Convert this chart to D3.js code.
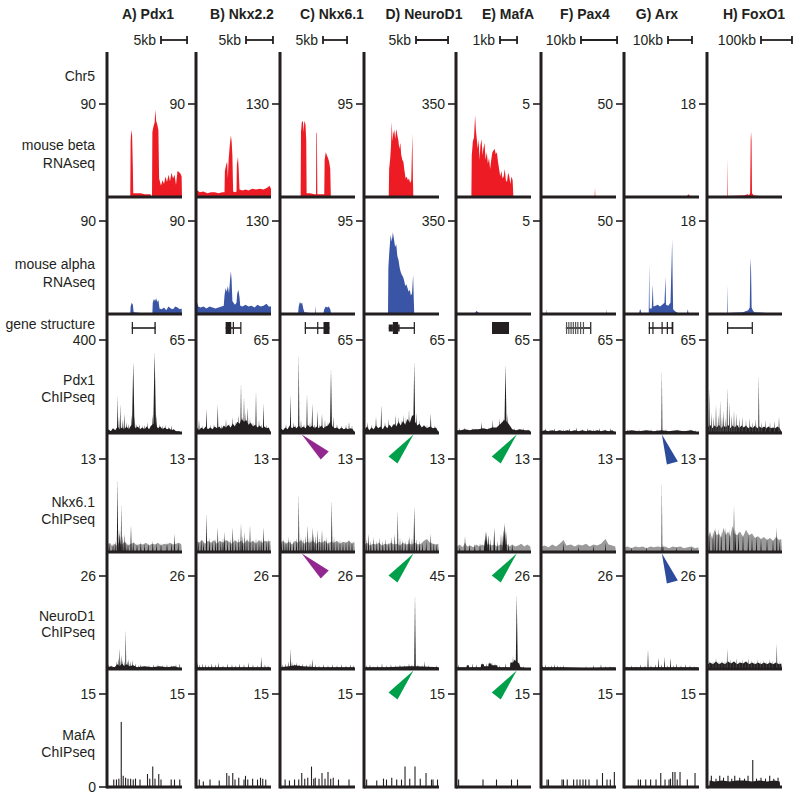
<!DOCTYPE html>
<html><head><meta charset="utf-8">
<script src="https://cdn.jsdelivr.net/npm/d3@7"></script>
<style>body{margin:0;background:#fff}svg{display:block;font-family:"Liberation Sans",Arial,Helvetica,sans-serif}</style>
</head><body><svg id="c" width="800" height="799"></svg>
<script>
// ---------------- DATA ----------------
const columns = ["A) Pdx1","B) Nkx2.2","C) Nkx6.1","D) NeuroD1","E) MafA","F) Pax4","G) Arx","H) FoxO1"];
const scaleBarLabels = ["5kb","5kb","5kb","5kb","1kb","10kb","10kb","100kb"];
const scaleBarKb = [5,5,5,5,1,10,10,100];
const windowKb = [14.4,13.9,15.6,11.7,4.4,20.8,31.25,242];
const rowLabels = {chr:["Chr5"],beta:["mouse beta","RNAseq"],alpha:["mouse alpha","RNAseq"],gene:["gene structure"],
  pdx1:["Pdx1","ChIPseq"],nkx:["Nkx6.1","ChIPseq"],neurod1:["NeuroD1","ChIPseq"],mafa:["MafA","ChIPseq"]};
// tick label at each column's axis (left side)
const betaTicks = ["90","90","130","95","350","5","50","18"];
const alphaTicks = ["90","90","130","95","350","5","50","18"];
const pdx1Ticks = ["400","65","65","65","65","65","65","65"];
const nkxTicks = ["13","13","13","13","13","13","13","13"];
const neurod1Ticks = ["26","26","26","26","45","26","26","26"];
const mafaTicks = ["15","15","15","15","15","15","15","15"];
const zeroTick = "0";

// RNAseq coverage, [position % of window, % of track max]
const betaRNA = [
 [[0,0],[31,0],[31.5,60],[32.5,72],[33.5,66],[34.5,30],[35,4],[45,4],[50,3],[58,3],[59,0],[60,0],[60.5,70],[62,76],[63.5,80],[64.5,94],[65.5,82],[67,78],[68.5,72],[69.5,20],[72,12],[74,18],[76,14],[78,22],[80,16],[82,24],[84,17],[86,26],[88,20],[90,24],[92,13],[94,28],[96,27],[98,25],[99.5,22],[100,0]],
 [[0,8],[2,7],[5,5],[10,6],[15,4],[20,5],[25,5],[30,4],[35,5],[38,5],[38.5,28],[40,34],[41.5,38],[42.5,20],[43.5,40],[45,55],[46.5,66],[47.5,60],[48.5,45],[49.5,6],[52,5],[54,6],[54.5,35],[56,43],[57,28],[58,8],[62,7],[66,8],[70,7],[75,9],[80,8],[85,9],[90,8],[95,10],[98,12],[100,9]],
 [[0,0],[27.5,0],[28,70],[29,80],[30.5,82],[31.5,70],[32.5,82],[34,78],[35,60],[35.5,4],[40,4],[46,3],[48,3],[48.5,70],[49.2,68],[49.8,3],[53,3],[59,3],[59.5,40],[61,48],[62.5,45],[64,42],[65.5,38],[67,30],[67.8,0],[100,0]],
 [[0,0],[33,0],[33.5,30],[35,42],[36,55],[37,81],[38,60],[39,68],[40.5,72],[41.5,62],[43,73],[44.5,66],[46,60],[47,52],[48.5,58],[49.5,46],[51,40],[52.5,38],[54,28],[55.5,20],[57,22],[58.5,18],[60,20],[61.5,15],[63,18],[64.5,68],[65.2,20],[65.8,0],[100,0]],
 [[0,0],[20.5,0],[21,45],[22.5,60],[24,64],[25.5,88],[26.5,72],[28,60],[29,52],[30,62],[31.5,40],[32.5,55],[34,62],[35.5,45],[36.5,52],[38,58],[39.5,40],[41,48],[42.5,36],[44,42],[45.5,30],[47,40],[48.5,48],[50,50],[51.5,52],[53,46],[54.5,48],[56,38],[57.5,30],[59,22],[60.5,28],[62,20],[63.5,22],[65,30],[66.5,18],[68,16],[69.5,26],[71,22],[72.5,14],[74,22],[75.5,18],[76.5,0],[100,0]],
 [[0,0],[27,0],[28,1.5],[29,0],[71.5,0],[72,10],[72.5,0],[100,0]],
 [[0,0],[20,0.5],[50,0.5],[84,1],[86,3],[88,1],[100,0]],
 [[0,0],[2,0.8],[20,0.8],[27,1],[27.4,42],[27.8,1],[45,1.5],[50,2],[54,3],[56,2],[57.5,4],[58.3,62],[58.8,70],[59.4,60],[60,4],[62,2],[70,1],[100,0.5]]
];
const alphaRNA = [
 [[0,0],[31,0],[31.5,8],[33,12],[34.5,10],[35.5,2],[45,1],[55,1],[60.5,1],[61,12],[62.5,16],[64,14],[65.5,17],[67,13],[68.5,15],[70,6],[73,5],[76,7],[79,4],[82,8],[85,6],[88,5],[91,8],[94,7],[97,5],[99.5,6],[100,0]],
 [[0,9],[1.5,12],[3,8],[6,7],[10,8],[14,6],[18,8],[22,7],[26,6],[30,7],[34,8],[37,9],[38,20],[39.5,28],[41,24],[42.5,30],[44,22],[45.5,38],[46.5,46],[47.5,36],[48.5,14],[50,12],[52,10],[54,12],[55,22],[56.5,26],[58,18],[59,9],[62,8],[66,10],[70,8],[74,9],[78,7],[82,10],[86,8],[90,9],[94,11],[97,8],[100,8]],
 [[0,0],[24,0],[25,8],[26.5,13],[28,11],[29.5,12],[31,6],[32.5,2],[40,1],[47,1],[47.5,9],[48,1],[58,1],[59,5],[61,8],[63,7],[65,8],[67,5],[68,1],[100,0]],
 [[0,0],[32,0],[32.5,50],[34,70],[35.5,85],[37,78],[38.5,88],[40,80],[41.5,72],[43,75],[44.5,62],[46,58],[47.5,50],[49,45],[50.5,42],[52,40],[53.5,36],[55,30],[56.5,32],[58,28],[59.5,24],[61,26],[62.5,20],[64,22],[65.5,42],[66.3,18],[67,0],[100,0]],
 [[0,0],[25,0],[26,2],[27.5,3.5],[29,2],[31,1],[33,0],[100,0]],
 [[0,0],[7,0],[7.5,5],[8,0],[87,0],[87.5,5],[88,0],[100,0]],
 [[0,0],[20,0],[21,4],[22,5],[23,1],[33,1],[33.6,54],[34.2,6],[37,6],[38.4,32],[39.2,8],[42,9],[45,10],[48,8],[51,10],[54,12],[55.3,40],[56,10],[59,9],[62,12],[63.6,60],[64.2,80],[64.8,40],[65.5,5],[68,3],[72,1],[84,1],[85,5],[86,1],[100,0]],
 [[0,0],[2,1],[20,1],[26.7,1],[27.2,31],[27.6,1],[40,1.5],[48,2],[55,4],[57,7],[57.8,50],[58.3,60],[58.8,45],[59.5,7],[61,4],[63,2],[80,1],[100,0]]
];

// gene structures: intron line [start,end] and exons [start,end,tall(1)/thin(0)]
const geneLines = [[33,64.5],[39.5,60],[33,66],[33,67],[48,70.7],[33,66],[33,65],[26.7,60.4]];
const geneExons = [
 [[33,34,1],[63.2,65,1]],
 [[39.5,44,1],[44,47,1],[49,50,1],[59,60.2,1]],
 [[33,34,1],[49.5,50.5,1],[58,66,1]],
 [[33,38.5,0],[38.5,45.5,1],[45.5,47.5,0],[66.3,67.3,1]],
 [[48,70.7,1]],
 [[33.3,33.8,1],[36.3,36.8,1],[39.3,39.8,1],[42.3,42.8,1],[45.3,45.8,1],[48.3,48.8,1],[52,52.5,1],[55.8,56.3,1],[65.5,66.3,1]],
 [[33,33.7,1],[37.8,39.4,1],[50,50.7,1],[57,57.7,1],[63.5,65.8,1]],
 [[26.7,27.5,1],[59.6,60.4,1]]
];

// ChIPseq: floors [pos, %] and peaks [pos, %, halfwidth]
const pdx1Floor = [
 [[0,0],[2,4],[5,2],[8,5],[11,3],[14,7],[17,4],[20,6],[23,4],[26,7],[29,4],[32,8],[35,9],[38,5],[41,7],[44,4],[47,6],[50,4],[53,7],[56,4],[59,8],[62,10],[65,9],[68,5],[71,7],[74,4],[77,6],[80,4],[83,5],[86,3],[89,4],[92,2],[96,2],[100,0]],
 [[0,0],[1,6],[4,3],[7,6],[10,4],[13,7],[16,4],[19,6],[22,4],[25,7],[28,5],[31,7],[34,4],[37,8],[40,6],[43,9],[46,6],[49,10],[52,7],[55,12],[58,10],[61,15],[64,12],[67,14],[70,9],[73,11],[76,7],[79,9],[82,6],[85,8],[88,5],[91,7],[94,5],[97,6],[100,0]],
 [[0,0],[1,5],[4,3],[7,6],[10,4],[13,8],[16,5],[19,7],[22,5],[25,8],[28,5],[31,7],[34,5],[37,9],[40,6],[43,8],[46,5],[49,7],[52,5],[55,8],[58,5],[61,7],[64,8],[67,12],[70,7],[73,5],[76,6],[79,4],[82,6],[85,4],[88,5],[91,4],[94,5],[97,4],[100,0]],
 [[0,0],[1,4],[4,7],[7,3],[10,6],[13,4],[16,8],[19,5],[22,7],[25,4],[28,8],[31,5],[34,9],[37,6],[40,10],[43,7],[46,12],[49,8],[52,13],[55,9],[58,15],[61,11],[64,18],[66,20],[68,12],[71,8],[74,10],[77,6],[80,8],[84,5],[88,7],[92,5],[96,6],[100,0]],
 [[0,0],[1,3],[6,3],[12,4],[18,3],[24,4],[30,4],[36,5],[42,4],[48,6],[54,6],[58,9],[61,11],[64,14],[68,12],[71,9],[75,4],[80,3],[85,4],[92,3],[98,3],[100,0]],
 [[0,0],[1,2],[5,3],[10,2],[15,3],[20,2],[25,3],[30,2],[35,3],[40,2],[45,3],[50,2],[55,3],[60,2],[65,3],[70,2],[75,3],[80,2],[85,3],[90,2],[95,3],[100,0]],
 [[0,0],[1,2],[10,3],[20,2],[30,3],[40,2],[50,3],[60,2],[70,3],[80,2],[90,3],[100,0]],
 [[0,0],[1,6],[4,9],[7,5],[10,8],[13,6],[16,9],[19,5],[22,8],[25,6],[28,9],[31,5],[34,8],[37,6],[40,9],[43,5],[46,8],[49,6],[52,8],[55,5],[58,7],[61,5],[64,8],[67,5],[70,7],[73,5],[76,7],[79,5],[82,7],[85,5],[88,6],[91,5],[94,7],[97,5],[100,0]]
];
const pdx1Peaks = [
 [[14,40,0.8],[16,18],[18,32,0.7],[21,14],[23,21],[26,12],[29,10],[33,20],[35,77,1.8],[37,18],[39,10],[43,10],[47,8],[50,9],[54,12],[58,8],[61,20],[63.5,87,2],[66,20],[70,10],[74,8],[78,9],[82,7],[86,8]],
 [[4,14],[9,8],[14,26],[19,9],[24,10],[29,31],[34,9],[40,15],[45,10],[49,17],[53,12],[57,20],[60,54,0.9],[62,18],[64,39],[66,22],[69,28],[72,16],[76,12],[80,44],[84,14],[87,10],[90,32],[94,9]],
 [[8,10],[14,41],[18,12],[21,9],[25,85,0.9],[28,14],[32,10],[36,42],[40,12],[43,32],[46,10],[50,24],[53,10],[56,21],[60,14],[64,12],[68,69,1.4],[71,18],[76,10],[82,8],[88,9],[92,12],[96,8]],
 [[5,12],[10,9],[16,18],[23,30],[28,12],[33,15],[38,10],[42,20],[46,18],[50,14],[53,20],[56,17],[60,25],[63,20],[67,77,1.4],[70,22],[74,14],[80,10],[84,9],[89,21,1],[94,8]],
 [[5,5],[11,6],[16,4],[22,5],[27,4],[34,12],[38,5],[43,6],[49,14],[53,5],[58,16],[61,13],[63,16],[66,74,1.6],[69,21],[72,8],[78,5],[84,4],[90,5],[96,4]],
 [[6,5],[12,4],[18,5],[30,4],[38,5],[47,6],[55,4],[62,5],[70,4],[78,5],[86,4],[93,5]],
 [[5,4],[12,3],[20,4],[28,3],[36,4],[44,4],[50.5,68,0.7],[56,4],[64,3],[72,4],[80,3],[88,4],[95,3]],
 [[3,48],[6,22],[9,18],[12,31],[15,20],[17.5,35],[20,18],[22,24],[25,16],[27,49],[30,33],[33,20],[36,24],[39,21],[43,16],[47,18],[52,14],[57,16],[61,12],[65,15],[69,63],[73,12],[78,14],[84,12],[90,13],[96,18]]
];
const nkxControl = [
 [[0,0],[1,8],[4,10],[7,6],[10,9],[13,7],[16,10],[20,8],[24,11],[28,7],[32,9],[36,10],[40,7],[44,9],[48,8],[52,10],[56,7],[60,9],[64,8],[68,10],[72,7],[76,9],[80,8],[84,10],[88,8],[92,9],[96,10],[99,8],[100,0]],
 [[0,0],[1,12],[4,10],[8,13],[12,9],[16,12],[20,10],[24,13],[28,9],[32,12],[36,10],[40,13],[44,11],[48,9],[52,13],[56,10],[60,12],[64,9],[68,13],[72,10],[76,12],[80,9],[84,13],[88,10],[92,12],[96,11],[99,12],[100,0]],
 [[0,0],[1,10],[4,12],[8,9],[12,11],[16,8],[20,12],[24,10],[28,13],[32,9],[36,11],[40,10],[44,12],[48,9],[52,11],[56,10],[60,12],[64,9],[68,11],[72,10],[76,12],[80,9],[84,11],[88,10],[92,12],[96,9],[99,11],[100,0]],
 [[0,0],[1,8],[4,10],[8,7],[12,9],[16,8],[20,10],[24,7],[28,9],[32,8],[36,10],[40,8],[44,9],[48,7],[52,10],[56,8],[60,9],[64,8],[68,10],[72,8],[76,9],[80,12],[84,14],[88,10],[92,9],[96,8],[99,9],[100,0]],
 [[0,0],[1,6],[5,8],[9,5],[12,10],[15,6],[19,7],[23,5],[27,8],[31,6],[35,8],[39,6],[43,9],[47,7],[51,8],[55,6],[59,8],[63,7],[67,9],[71,6],[75,8],[79,6],[83,7],[87,9],[91,6],[95,8],[99,6],[100,0]],
 [[0,0],[1,6],[5,7],[10,5],[15,8],[20,6],[25,9],[30,13],[34,7],[40,8],[45,6],[50,8],[55,7],[60,9],[65,6],[70,8],[75,7],[80,9],[86,14],[90,8],[95,7],[99,6],[100,0]],
 [[0,0],[1,5],[5,6],[10,4],[15,6],[20,5],[25,6],[30,4],[35,6],[40,5],[45,6],[50,5],[55,6],[60,4],[65,6],[70,5],[75,6],[80,4],[85,5],[90,6],[95,4],[99,5],[100,0]],
 [[0,0],[1,15],[4,22],[7,14],[10,24],[13,18],[16,20],[19,15],[22,26],[25,18],[28,22],[31,16],[34,28],[37,20],[40,18],[44,22],[48,16],[52,24],[56,18],[60,20],[64,15],[68,17],[72,14],[76,16],[80,13],[84,15],[88,12],[92,16],[96,13],[99,14],[100,0]]
];
const nkxPeaks = [
 [[3,9],[8,10],[11,12],[14,79,1],[16,25],[17,20,2],[19,52,0.8],[21,18],[23,20],[25,12],[28,10],[32,29],[35,12],[40,10],[45,11],[50,9],[55,10],[61,12],[66,9],[72,10],[80,11],[86,10],[90,20],[95,10]],
 [[3,12],[7,14],[10,11],[14,41],[18,15],[22,12],[26,14],[29,27],[33,12],[36,15],[38,22],[42,13],[46,14],[49,27],[53,12],[57,15],[60,31],[62,18],[65,22],[68,15],[72,29],[76,13],[80,15],[84,12],[87,14],[90,27],[94,12],[97,14]],
 [[2,12],[5,14],[8,12],[11,16],[14,13],[18,12],[22,15],[25,63,0.8],[28,16],[31,14],[34,18],[37,29],[40,16],[43,27],[45,20],[47,18],[50,24],[53,15],[56,24],[59,14],[62,16],[65,12],[69,56,0.9],[72,16],[76,12],[80,13],[84,11],[88,12],[92,14],[96,12]],
 [[3,14],[6,20],[9,12],[13,16],[17,12],[21,15],[25,12],[29,14],[33,11],[37,16],[41,20],[45,45,0.8],[48,15],[51,13],[55,12],[59,14],[61,17],[64,15],[67,49,1.1],[70,14],[74,12],[78,10],[83,12],[89,20],[93,10],[97,9]],
 [[5,6],[12,17],[18,8],[25,9],[32,10],[38,14],[40,22,2.5],[43,18,1.5],[46,14],[51,26,1.2],[55,12],[60,20],[63,24,1.5],[65,31,2],[67,22],[70,10],[75,8]],
 [[30,10],[50,6],[70,7],[86,10]],
 [[10,5],[30,5],[50.5,77,0.6],[52,8],[70,5],[90,5]],
 [[3,20],[8,22],[11,27],[15,25],[19,22],[25,27],[30,24],[36,50],[38,24],[42,22],[48,20],[55,20],[60,16],[66,18],[72,14],[80,15],[88,13],[93,26],[97,12]]
];
const neurod1Floor = [
 [[0,0],[1,2],[5,3],[10,2],[14,5],[17,3],[20,6],[23,3],[26,5],[30,3],[35,4],[40,2],[50,3],[60,2],[70,3],[80,2],[90,3],[100,0]],
 [[0,0],[1,2],[30,2],[60,2],[99,2],[100,0]],
 [[0,0],[1,2],[12,3],[20,4],[30,3],[50,2],[99,2],[100,0]],
 [[0,0],[1,2],[30,2],[60,3],[70,3],[99,2],[100,0]],
 [[0,0],[1,2],[14,2],[14.5,4],[17,4],[17.5,2],[33,2],[33.5,5],[37,5],[37.5,3],[43,3],[43.5,6],[47,6],[47.5,4],[55,4],[55.5,2],[72,2],[72.5,7],[76,7],[78,10],[84,6],[86,2],[100,0]],
 [[0,0],[1,2],[30,2],[60,1],[99,2],[100,0]],
 [[0,0],[1,2],[30,2],[60,2],[99,2],[100,0]],
 [[0,0],[1,5],[4,7],[8,5],[12,8],[16,5],[20,7],[24,5],[28,8],[32,6],[36,8],[40,5],[44,7],[48,6],[52,8],[56,5],[60,7],[64,5],[68,7],[72,5],[76,7],[80,5],[84,7],[88,5],[92,7],[96,5],[99,6],[100,0]]
];
const neurod1Peaks = [
 [[2,5],[6,4],[13,8],[15,12],[17,22],[19,15],[21,10],[23,8],[25,43,0.7],[27,9],[29,11],[31,8],[34,10],[38,6],[42,4],[45,5],[50,3],[56,4],[62,5],[68,5],[74,4],[80,5],[86,4],[92,5],[97,6]],
 [[2,7],[5,5],[9,6],[13,5],[17,4],[21,6],[26,5],[30,7],[36,4],[42,6],[48,5],[53,4],[58,6],[64,5],[70,7],[76,5],[82,4],[87,13],[92,5],[96,4]],
 [[3,5],[7,6],[11,8],[14,22,0.7],[16,8],[19,6],[22,7],[26,5],[30,6],[35,5],[40,6],[43,11],[47,5],[52,4],[58,5],[64,4],[70,5],[76,4],[82,5],[88,4],[94,5],[98,4]],
 [[3,4],[8,5],[13,3],[18,4],[24,6],[30,4],[36,5],[42,4],[48,5],[54,4],[60,6],[64,5],[68,80,1.1],[72,5],[78,4],[81,8],[86,4],[92,3],[97,4]],
 [[3,5],[15,4],[22,6],[27,5],[35,7],[41,6],[45,8],[48,7],[52,6],[58,4],[66,6],[76,14],[78,10],[81,80,1.4],[84,8],[90,3]],
 [[2,4],[6,5],[10,3],[14,4],[18,5],[22,4],[26,3],[30,4],[60,3],[70,4],[80,5],[86,3],[92,3]],
 [[4,3],[10,4],[16,3],[22,5],[28,4],[32,21],[36,4],[42,5],[46,12],[50,5],[54,13],[58,4],[62,12],[66,4],[70,6],[76,4],[82,5],[88,4],[94,3]],
 [[3,10],[8,9],[12,12],[16,8],[20,10],[24,9],[27,22],[31,11],[35,9],[39,12],[43,8],[47,11],[51,9],[55,12],[59,10],[63,8],[67,11],[71,9],[75,10],[79,8],[83,11],[87,9],[93,28],[97,8]]
];
const mafaFloor = [[],[],[],[],[],[],[],
 [[0,0],[3,0],[3.5,7],[10,6],[20,7],[30,6],[40,7],[50,7],[60,6],[70,7],[80,6],[90,7],[97,6],[97.5,0],[100,0]]];
const mafaPeaks = [
 [[9,8],[12.6,8],[15.8,9],[19,70],[21.6,12],[24.8,10],[28,9],[31.5,9],[35,8],[38,9],[44,8],[54,14],[57,9],[61,22],[64,9],[69,14],[72,8],[85.6,8],[90,8],[97,8]],
 [[4.4,8],[9.8,6],[18.7,8],[31,7],[41,15],[44,12],[49,15],[52,8],[57,10],[64,8],[66,12],[69,8],[75.5,9],[82,8],[86,10],[89,9],[93,8]],
 [[6.8,8],[12.6,7],[19.4,8],[25,8],[29,15],[33,9],[37,10],[42,22],[45,9],[47,10],[52,9],[56,15],[60,9],[64,16],[67.6,9],[71,10],[78,8],[92,8]],
 [[3.5,8],[17,7],[26,9],[30,8],[37,10],[43.6,8],[50,8],[54.7,22],[61,9],[68,22],[75,9],[82.7,15],[90,8],[92,8],[98,8]],
 [[3.5,8],[36,8],[54,8],[74,8],[82,8]],
 [[8,8],[10,8],[28,8],[30,8],[35,8],[43.5,8],[48,8],[52,8],[56,8],[59.6,8],[64,8],[74.7,8],[82,15],[88,8],[92.4,8],[97.8,16]],
 [[19,8],[22,8],[29,8],[35.5,8],[42.7,8],[49,15],[54.7,8],[60,8],[62,9],[65,16],[68,16],[71,8],[74.7,16],[84.4,8],[94.7,15]],
 [[5.8,12],[12,9],[17,12],[22,10],[28,12],[33,9],[37,12],[43.6,10],[50,9],[54.7,12],[61,29],[66,9],[72,10],[78,9],[83.6,12],[89,9],[94.7,10]]
];
// arrowhead annotations: column index, row, genomic position (%), colour key
const arrowCols = [2,2,3,3,3,4,4,4,6,6];
const arrowRows = ["nkx","neurod1","nkx","neurod1","mafa","nkx","neurod1","mafa","nkx","neurod1"];
const arrowPos = [29,29,66,66,66,81,81,81,50.5,50.5];
const arrowKind = ["purple","purple","green","green","green","green","green","green","blue","blue"];

// ---------------- LAYOUT / STYLE ----------------
const axisX = [107,196,280,364,456,541,624,707];
const titleOff = [41,46,52,60,52,44,33,47];
const barOff = [54,50,43,52,44,40,44,54];
const panelW = 75, trackH = 93;
const rowOrder = ["beta","alpha","pdx1","nkx","neurod1","mafa"];
const rowBase = {beta:197, alpha:314, pdx1:433, nkx:552, neurod1:669, mafa:787};
const ink = "#231f20";
const colors = {red:"#ed1c24", blue:"#3a55a5", gray:"#9a9a9a", purple:"#92278f", green:"#00a04b", navy:"#2c4b9b", hgray:"#4a4a4a"};
const arrowShapes = {purple:[[0,0],[27,17],[19,25]], green:[[0,0],[-25,22],[-16,29]], blue:[[0,0],[5,30],[16,27]]};
const arrowColor = {purple:colors.purple, green:colors.green, blue:colors.navy};

const svg = d3.select("#c");
const x = d3.scaleLinear().domain([0,100]).range([0,panelW]);
const y = d3.scaleLinear().domain([0,100]).range([0,-trackH]);
const area = d3.area().x(d=>x(d[0])).y0(0).y1(d=>y(d[1]));

// titles and scale bars
columns.forEach((t,i)=>{
  svg.append("text").attr("x",axisX[i]+titleOff[i]).attr("y",19).attr("text-anchor","middle")
    .attr("font-size",14).attr("font-weight","bold").attr("fill",ink).text(t);
  const bx = axisX[i]+barOff[i], bl = x(scaleBarKb[i]/windowKb[i]*100), by = 40;
  const g = svg.append("g").attr("stroke",ink).attr("stroke-width",1.8);
  g.append("line").attr("x1",bx).attr("x2",bx+bl).attr("y1",by).attr("y2",by);
  g.append("line").attr("x1",bx).attr("x2",bx).attr("y1",by-4).attr("y2",by+4);
  g.append("line").attr("x1",bx+bl).attr("x2",bx+bl).attr("y1",by-4).attr("y2",by+4);
  svg.append("text").attr("x",bx-5).attr("y",by+5).attr("text-anchor","end").attr("font-size",14)
    .attr("fill",ink).text(scaleBarLabels[i]);
});

// row labels
const rowLabelY = {chr:[81],beta:[150,168],alpha:[269,287],gene:[329],pdx1:[385,402],nkx:[507,524],neurod1:[621,637],mafa:[740,757]};
Object.keys(rowLabels).forEach(k=>{
  rowLabels[k].forEach((s,j)=>{
    svg.append("text").attr("x",95).attr("y",rowLabelY[k][j]).attr("text-anchor","end")
      .attr("font-size",14).attr("fill",ink).text(s);
  });
});

function panel(row,i){ return svg.append("g").attr("transform",`translate(${axisX[i]},${rowBase[row]})`); }
function drawArea(row,data,color){ data.forEach((d,i)=>{ if(d.length) panel(row,i).append("path").attr("d",area(d)).attr("fill",color); }); }
function drawPeaks(row,data,color,defW,lastColor){
  data.forEach((pk,i)=>{
    const g = panel(row,i);
    pk.forEach(p=>{
      const w = p[2]!==undefined ? p[2] : defW;
      g.append("path").attr("d",`M${x(p[0]-w)},0L${x(p[0])},${y(p[1])}L${x(p[0]+w)},0Z`)
        .attr("fill", (lastColor && i===7) ? lastColor : color);
    });
  });
}
function drawLines(row,data,color){
  data.forEach((pk,i)=>{
    const g = panel(row,i);
    pk.forEach(p=>{ g.append("line").attr("x1",x(p[0])).attr("x2",x(p[0])).attr("y1",0).attr("y2",y(p[1]))
      .attr("stroke",color).attr("stroke-width",1.1); });
  });
}

drawArea("beta",betaRNA,colors.red);
drawArea("alpha",alphaRNA,colors.blue);
drawArea("pdx1",pdx1Floor,ink); drawPeaks("pdx1",pdx1Peaks,ink,0.9,colors.hgray);
drawArea("nkx",nkxControl,colors.gray); drawPeaks("nkx",nkxPeaks,ink,0.9);
drawArea("neurod1",neurod1Floor,ink); drawPeaks("neurod1",neurod1Peaks,ink,0.8,colors.hgray);
drawArea("mafa",mafaFloor,ink); drawLines("mafa",mafaPeaks,ink);

// gene structures
const geneY = 328;
geneLines.forEach((ln,i)=>{
  const g = svg.append("g").attr("transform",`translate(${axisX[i]},${geneY})`);
  g.append("line").attr("x1",x(ln[0])).attr("x2",x(ln[1])).attr("y1",0).attr("y2",0).attr("stroke",ink).attr("stroke-width",1.6);
  geneExons[i].forEach(e=>{
    const h = e[2] ? 12 : 7;
    g.append("rect").attr("x",x(e[0])).attr("width",Math.max(1.2,x(e[1])-x(e[0]))).attr("y",-h/2).attr("height",h)
      .attr("fill", i===5 && e[1]<60 ? "#555" : ink);
  });
});

// axes, baselines, ticks
axisX.forEach((ax,i)=>{
  svg.append("line").attr("x1",ax).attr("x2",ax).attr("y1",52).attr("y2",788.5).attr("stroke",ink).attr("stroke-width",3);
  rowOrder.forEach(r=>{
    svg.append("line").attr("x1",ax).attr("x2",ax+panelW).attr("y1",rowBase[r]).attr("y2",rowBase[r]).attr("stroke",ink).attr("stroke-width",3);
  });
});
const tickSets = {beta:betaTicks,alpha:alphaTicks,pdx1:pdx1Ticks,nkx:nkxTicks,neurod1:neurod1Ticks,mafa:mafaTicks};
rowOrder.forEach(r=>{
  tickSets[r].forEach((lab,i)=>{
    const ty = rowBase[r]+y(100), ax = axisX[i];
    svg.append("line").attr("x1",ax-8).attr("x2",ax).attr("y1",ty).attr("y2",ty).attr("stroke",ink).attr("stroke-width",1.6);
    svg.append("text").attr("x",ax-11).attr("y",ty).attr("dy","0.35em").attr("text-anchor","end").attr("font-size",14).attr("fill",ink).text(lab);
  });
});
svg.append("line").attr("x1",axisX[0]-8).attr("x2",axisX[0]).attr("y1",rowBase.mafa).attr("y2",rowBase.mafa).attr("stroke",ink).attr("stroke-width",1.6);
svg.append("text").attr("x",axisX[0]-11).attr("y",rowBase.mafa).attr("dy","0.35em").attr("text-anchor","end").attr("font-size",14).attr("fill",ink).text(zeroTick);

// arrowheads
arrowCols.forEach((c,k)=>{
  const prev = rowOrder[rowOrder.indexOf(arrowRows[k])-1];
  const ax = axisX[c]+x(arrowPos[k]), ay = rowBase[prev]+1.5;
  const pts = arrowShapes[arrowKind[k]].map(p=>[ax+p[0],ay+p[1]]);
  svg.append("path").attr("d",d3.line()(pts)+"Z").attr("fill",arrowColor[arrowKind[k]]);
});
</script></body></html>
